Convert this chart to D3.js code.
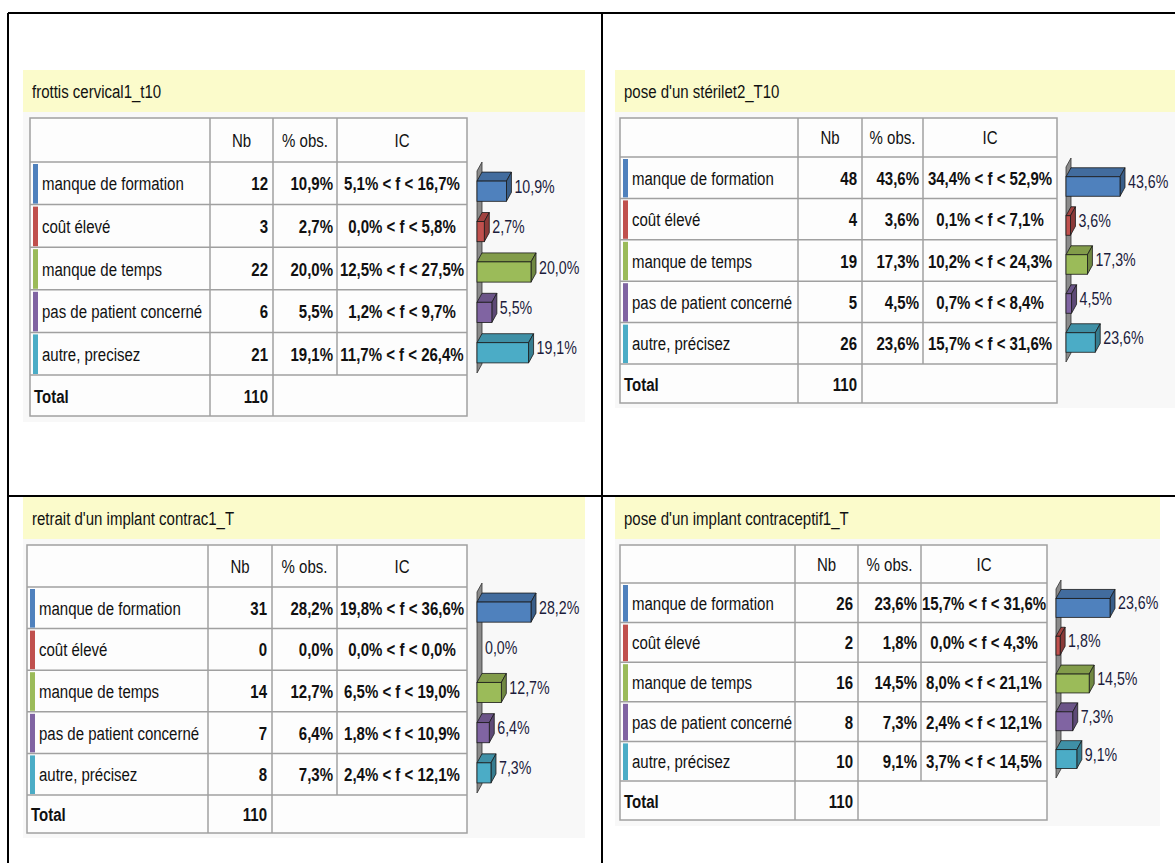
<!DOCTYPE html>
<html>
<head>
<meta charset="utf-8">
<script src="https://cdn.jsdelivr.net/npm/d3@7/dist/d3.min.js"></script>
<style>
  body { margin: 0; background: #fff; }
  svg { display: block; }
  text { font-family: "Liberation Sans", Arial, sans-serif; }
</style>
</head>
<body>
<svg id="chart" width="1175" height="863"></svg>
<script>
// categories (same order in every table)
var categories = ["manque de formation", "coût élevé", "manque de temps", "pas de patient concerné", "autre, précisez"];
var categoriesFrottis = ["manque de formation", "coût élevé", "manque de temps", "pas de patient concerné", "autre, precisez"];
var headers = ["Nb", "% obs.", "IC"];
var titles = ["frottis cervical1_t10", "pose d'un stérilet2_T10", "retrait d'un implant contrac1_T", "pose d'un implant contraceptif1_T"];
var totals = [110, 110, 110, 110];

// frottis cervical
var nbFrottis = [12, 3, 22, 6, 21];
var pctFrottis = [10.9, 2.7, 20.0, 5.5, 19.1];
var icLowFrottis = [5.1, 0.0, 12.5, 1.2, 11.7];
var icHighFrottis = [16.7, 5.8, 27.5, 9.7, 26.4];

// pose d'un sterilet
var nbSterilet = [48, 4, 19, 5, 26];
var pctSterilet = [43.6, 3.6, 17.3, 4.5, 23.6];
var icLowSterilet = [34.4, 0.1, 10.2, 0.7, 15.7];
var icHighSterilet = [52.9, 7.1, 24.3, 8.4, 31.6];

// retrait d'un implant
var nbRetrait = [31, 0, 14, 7, 8];
var pctRetrait = [28.2, 0.0, 12.7, 6.4, 7.3];
var icLowRetrait = [19.8, 0.0, 6.5, 1.8, 2.4];
var icHighRetrait = [36.6, 0.0, 19.0, 10.9, 12.1];

// pose d'un implant
var nbPose = [26, 2, 16, 8, 10];
var pctPose = [23.6, 1.8, 14.5, 7.3, 9.1];
var icLowPose = [15.7, 0.0, 8.0, 2.4, 3.7];
var icHighPose = [31.6, 4.3, 21.1, 12.1, 14.5];

var colors = ["#4f81bd", "#c0504d", "#9bbb59", "#8064a2", "#4bacc6"];

// layout of each block (positions only)
var panels = [
    {title: titles[0], cats: categoriesFrottis, nb: nbFrottis, pct: pctFrottis, lo: icLowFrottis, hi: icHighFrottis, total: totals[0],
     band: [23, 70, 585, 112], bg: [23, 112, 585, 422],
     cols: [30, 210, 273, 337, 467], rows: [118, 162, 375, 416],
     wallX: 477, barY: [171, 373]},
    {title: titles[1], cats: categories, nb: nbSterilet, pct: pctSterilet, lo: icLowSterilet, hi: icHighSterilet, total: totals[1],
     band: [615, 70, 1175, 112], bg: [615, 112, 1175, 408],
     cols: [620, 798, 862, 923, 1057], rows: [118, 157, 364, 403],
     wallX: 1066, barY: [167, 362]},
    {title: titles[2], cats: categories, nb: nbRetrait, pct: pctRetrait, lo: icLowRetrait, hi: icHighRetrait, total: totals[2],
     band: [23, 497, 585, 539], bg: [23, 539, 585, 838],
     cols: [27, 208, 272, 337, 467], rows: [545, 587, 795, 833],
     wallX: 477, barY: [592, 793]},
    {title: titles[3], cats: categories, nb: nbPose, pct: pctPose, lo: icLowPose, hi: icHighPose, total: totals[3],
     band: [615, 497, 1160, 539], bg: [615, 539, 1160, 826],
     cols: [620, 795, 858, 921, 1047], rows: [545, 583, 781, 820],
     wallX: 1056, barY: [589, 778]}
];

var fmt1 = d3.format(".1f");
function pc(v) { return fmt1(v).replace(".", ",") + "%"; }

// the report uses a narrow font: squeeze Liberation Sans horizontally
var SX = 0.79;
function label(parent, x, y, str, size, anchor, bold, fill) {
    return parent.append("text")
        .attr("transform", "translate(" + x + "," + y + ") scale(" + SX + ",1)")
        .attr("text-anchor", anchor || "start")
        .attr("font-size", size)
        .attr("font-weight", bold ? "bold" : "normal")
        .attr("fill", fill || "#111")
        .text(str);
}

var svg = d3.select("#chart");
var DX = 5, DY = 9;

panels.forEach(function(p) {
    var g = svg.append("g");

    // title band + light background
    g.append("rect").attr("x", p.band[0]).attr("y", p.band[1])
        .attr("width", p.band[2] - p.band[0]).attr("height", p.band[3] - p.band[1])
        .attr("fill", "#fbfbcb");
    g.append("rect").attr("x", p.bg[0]).attr("y", p.bg[1])
        .attr("width", p.bg[2] - p.bg[0]).attr("height", p.bg[3] - p.bg[1])
        .attr("fill", "#f8f8f8");
    label(g, p.band[0] + 9, (p.band[1] + p.band[3]) / 2 + 6.5, p.title, 19, "start", false, "#111");

    // table
    var c = p.cols;
    var rowScale = d3.scaleBand().domain(p.cats).range([p.rows[1], p.rows[2]]);
    var rh = rowScale.bandwidth();
    var t = g.append("g");

    t.append("rect").attr("x", c[0]).attr("y", p.rows[0])
        .attr("width", c[4] - c[0]).attr("height", p.rows[3] - p.rows[0])
        .attr("fill", "#fdfdfd").attr("stroke", "#a0a0a0").attr("stroke-width", 1.5);

    // horizontal lines
    var hl = [p.rows[1]].concat(p.cats.map(function(d) { return rowScale(d) + rh; }));
    t.selectAll("line.h").data(hl).enter().append("line")
        .attr("x1", c[0]).attr("x2", c[4])
        .attr("y1", function(d) { return d; }).attr("y2", function(d) { return d; })
        .attr("stroke", "#a0a0a0").attr("stroke-width", 1.5);
    // vertical lines
    [1, 2, 3].forEach(function(i) {
        t.append("line").attr("x1", c[i]).attr("x2", c[i])
            .attr("y1", p.rows[0]).attr("y2", i === 3 ? p.rows[2] : p.rows[3])
            .attr("stroke", "#a0a0a0").attr("stroke-width", 1.5);
    });

    // headers
    var hy = (p.rows[0] + p.rows[1]) / 2 + 6.5;
    headers.forEach(function(h, i) {
        label(t, (c[i + 1] + c[i + 2]) / 2, hy, h, 19, "middle");
    });

    p.cats.forEach(function(d, i) {
        var ry = rowScale(d), by = ry + rh / 2 + 7;
        t.append("rect").attr("x", c[0] + 3).attr("y", ry + 2).attr("width", 5).attr("height", rh - 3)
            .attr("fill", colors[i]);
        label(t, c[0] + 12, by, d, 19, "start");
        label(t, c[2] - 5, by, p.nb[i], 19, "end", true);
        label(t, c[3] - 4, by, pc(p.pct[i]), 19, "end", true);
        label(t, (c[3] + c[4]) / 2, by, pc(p.lo[i]) + " < f < " + pc(p.hi[i]), 19, "middle", true);
    });

    var ty = (p.rows[2] + p.rows[3]) / 2 + 7;
    label(t, c[0] + 4, ty, "Total", 19, "start", true);
    label(t, c[2] - 5, ty, p.total, 19, "end", true);

    // 3D bar chart
    var x = d3.scaleLinear().domain([0, d3.max(p.pct)]).range([0, 54]);
    var y = d3.scaleBand().domain(p.cats).range(p.barY).paddingInner(0.5).paddingOuter(0.25);
    var bh = y.bandwidth();
    var x0 = p.wallX;
    var b = g.append("g");

    b.append("polygon")
        .attr("points", [[x0, p.barY[0]], [x0 + DX, p.barY[0] - DY], [x0 + DX, p.barY[1] - DY], [x0, p.barY[1]]].join(" "))
        .attr("fill", "#8a8a8a").attr("stroke", "#333").attr("stroke-width", 0.8);

    p.cats.forEach(function(d, i) {
        var w = x(p.pct[i]), yy = y(d), col = d3.color(colors[i]);
        if (p.pct[i] > 0) {
            b.append("polygon")
                .attr("points", [[x0, yy], [x0 + DX, yy - DY], [x0 + w + DX, yy - DY], [x0 + w, yy]].join(" "))
                .attr("fill", col.darker(0.5)).attr("stroke", "#1a1a1a").attr("stroke-width", 0.8);
            b.append("polygon")
                .attr("points", [[x0 + w, yy], [x0 + w + DX, yy - DY], [x0 + w + DX, yy + bh - DY], [x0 + w, yy + bh]].join(" "))
                .attr("fill", col.darker(0.9)).attr("stroke", "#1a1a1a").attr("stroke-width", 0.8);
            b.append("rect").attr("x", x0).attr("y", yy).attr("width", w).attr("height", bh)
                .attr("fill", col).attr("stroke", "#1a1a1a").attr("stroke-width", 0.8);
        }
        label(b, x0 + w + DX + 3, yy + bh / 2 - DY / 2 + 6, pc(p.pct[i]), 18, "start", false, "#1c1c3c");
    });
});

// frame lines
var frame = [[8, 13, 1175, 13], [8, 496, 1175, 496], [8, 13, 8, 863], [602, 13, 602, 863]];
svg.selectAll("line.frame").data(frame).enter().append("line")
    .attr("x1", function(d) { return d[0]; }).attr("y1", function(d) { return d[1]; })
    .attr("x2", function(d) { return d[2]; }).attr("y2", function(d) { return d[3]; })
    .attr("stroke", "#000").attr("stroke-width", 2);
</script>
</body>
</html>
